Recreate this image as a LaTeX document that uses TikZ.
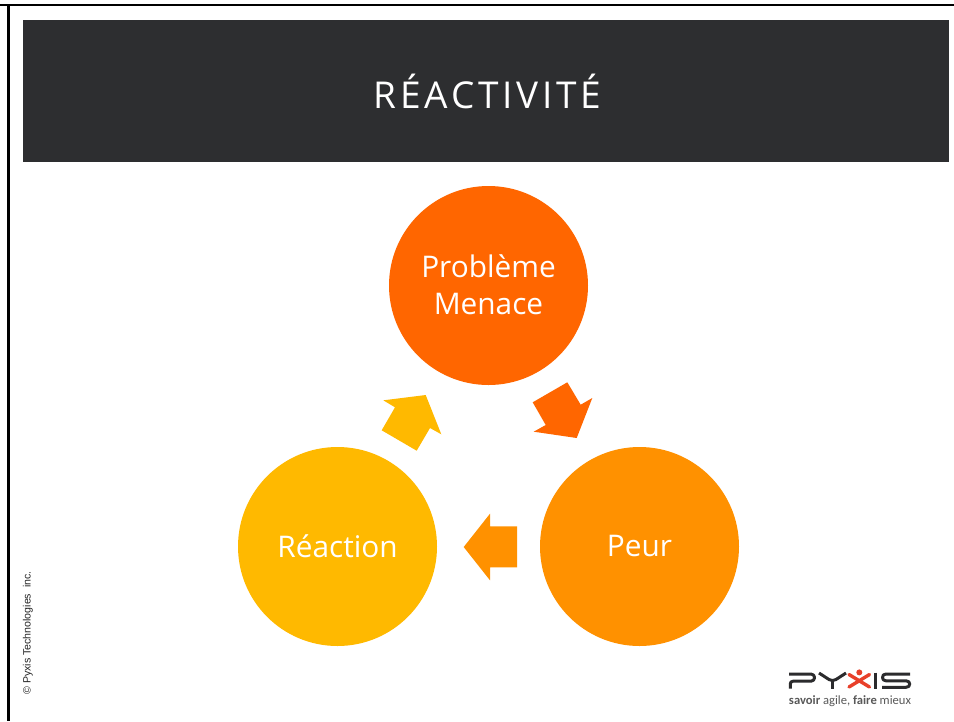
\documentclass[tikz,border=0pt]{standalone}
\usepackage{fontspec}
\setmainfont{Open Sans}
\newfontfamily\titlefont[LetterSpace=10.3]{Open Sans}
\newfontfamily\arialfont{Liberation Sans}
\newfontfamily\logofont{Carlito}
\definecolor{hdr}{HTML}{2D2E30}
\definecolor{cA}{HTML}{FF6600}
\definecolor{cB}{HTML}{FF9100}
\definecolor{cC}{HTML}{FFB900}
\definecolor{logoD}{HTML}{2B2B2D}
\definecolor{logoR}{HTML}{E8402A}
\newcommand{\lift}[1]{\raisebox{1.5pt}{#1}}
\tikzset{
  bubble/.style={circle,minimum size=199pt,inner sep=0pt,text=white,align=center,font=\fontsize{29.8}{38}\selectfont},
  logoline/.style={draw=logoD,line width=3pt,line join=round},
  logored/.style={draw=logoR,line width=3.4pt,line cap=round},
}
\begin{document}
\begin{tikzpicture}[x=1pt,y=-1pt]
\useasboundingbox (0,0) rectangle (954,721);
\fill[white] (0,0) rectangle (954,721);
\fill[black] (0,4) rectangle (954,6.3);
\fill[black] (7.2,4) rectangle (9.5,721);
\fill[hdr] (23,20) rectangle (949,162);
\node[text=white,font=\titlefont\fontsize{37}{40}\selectfont,inner sep=0pt] (title) at (487.5,91.5) {R\'EACTIVIT\'E};
\node[bubble,fill=cA] (pb) at (488.5,285.5) {\lift{Probl\`eme}\\[-0.5pt]\lift{Menace}};
\node[bubble,fill=cB] (peur) at (639.5,546.5) {Peur};
\node[bubble,fill=cC] (rea) at (337.5,546.5) {\lift{R\'eaction}};
\fill[cA] (532.7,402.3)--(567.3,382.3)--(580.7,404.7)--(592.3,398)--(576.7,438)--(533.7,431.7)--(545.7,425)--cycle;
\fill[cB] (463.7,547)--(490,513.7)--(490,526.3)--(517,526.3)--(517,567.3)--(490,567.3)--(490,580.3)--cycle;
\fill[cC] (383.3,400.3)--(425.7,395)--(441.3,434.3)--(430,428)--(416.7,450.7)--(381.7,430.3)--(395,407.3)--cycle;
\node[rotate=90,font=\arialfont\fontsize{10.6}{12}\selectfont,text=black!85,inner sep=0pt] (copy) at (28,633) {\textcopyright{} Pyxis Technologies\ \ inc.};
% logo
\draw[logoline] (789,674) -- (811,674) arc (-90:90:3.6) -- (793,681.2) .. controls (791,681.2) and (790.3,682.5) .. (790.3,684) -- (790.3,688.5);
\draw[logoline] (819,673) -- (829,679.5) .. controls (831.5,681) and (833.5,681) .. (836,679.5) -- (846,673);
\draw[logoline] (832.5,680.5) -- (832.5,688.5);
\draw[logored] (849,674.5) -- (869.5,687);
\draw[logored] (869.5,674.5) -- (849,687);
\fill[logoR] (859.3,672.4) circle (3);
\draw[logoline] (875.5,672.5) -- (875.5,688.5);
\draw[logoline] (910,674) -- (886,674) .. controls (883.5,674) and (882.5,675.5) .. (882.5,677.5) .. controls (882.5,679.5) and (883.5,680.8) .. (886,680.8) -- (906,680.8) .. controls (908.5,680.8) and (909.7,682.2) .. (909.7,684) .. controls (909.7,686) and (908.5,687.3) .. (906,687.3) -- (882,687.3);
\node[font=\logofont\fontsize{12.6}{14}\selectfont,text=black!65,inner sep=0pt,anchor=base] (tag) at (850,704.5) {\textbf{savoir} agile, \textbf{faire} mieux};
\end{tikzpicture}
\end{document}
